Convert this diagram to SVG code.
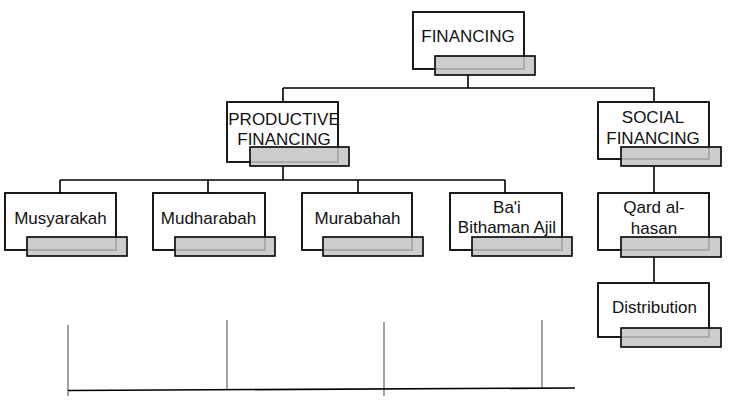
<svg xmlns="http://www.w3.org/2000/svg" width="735" height="402" viewBox="0 0 735 402">
<style>
.box{fill:#fff;stroke:#000;stroke-width:1.8}
.tab{fill:#c4c4c4;fill-opacity:0.85;stroke:#000;stroke-width:1.6}
.lbl{font-family:"Liberation Sans",Arial,sans-serif;font-size:17px;fill:#111;text-anchor:middle}
.con{stroke:#000;stroke-width:1.6;fill:none}
.grid{stroke:#666;stroke-width:1.2;fill:none}
</style>
<rect width="735" height="402" fill="#fff"/>
<g id="connectors">
<path class="con" d="M468 75V88M283 88H655M283 88V102M654 88V102"/>
<path class="con" d="M283 166V180M60 180H505M60 180V193M208 180V193M358 180V193M505 180V193"/>
<path class="con" d="M654 166V193M654 257V283"/>
</g>
<g id="baseline-grid">
<path class="grid" d="M68 325V396M227 320V390M384 322V396M542 320V389"/>
<path class="con" stroke-width="1.3" d="M68 390.5L575 388"/>
</g>
<g id="n-financing">
<rect class="box" x="413" y="12" width="111" height="57"/>
<rect class="tab" x="435" y="56" width="100" height="19"/>
<text class="lbl" x="468" y="42">FINANCING</text>
</g>
<g id="n-productive">
<rect class="box" x="227" y="102" width="111" height="60"/>
<rect class="tab" x="250" y="147" width="99" height="19"/>
<text class="lbl" x="284" y="125">PRODUCTIVE</text>
<text class="lbl" x="284" y="145">FINANCING</text>
</g>
<g id="n-social">
<rect class="box" x="598" y="102" width="111" height="57"/>
<rect class="tab" x="621" y="147" width="100" height="19"/>
<text class="lbl" x="653" y="123">SOCIAL</text>
<text class="lbl" x="653" y="143.5">FINANCING</text>
</g>
<g id="n-musyarakah">
<rect class="box" x="5" y="193" width="111" height="57"/>
<rect class="tab" x="27" y="237" width="100" height="19"/>
<text class="lbl" x="60.5" y="224">Musyarakah</text>
</g>
<g id="n-mudharabah">
<rect class="box" x="153" y="193" width="112" height="57"/>
<rect class="tab" x="175" y="237" width="100" height="19"/>
<text class="lbl" x="208.5" y="224">Mudharabah</text>
</g>
<g id="n-murabahah">
<rect class="box" x="302" y="193" width="110" height="57"/>
<rect class="tab" x="323" y="237" width="100" height="19"/>
<text class="lbl" x="357.5" y="224">Murabahah</text>
</g>
<g id="n-bai">
<rect class="box" x="450" y="193" width="112" height="57"/>
<rect class="tab" x="472" y="237" width="100" height="19"/>
<text class="lbl" x="507" y="212.5">Ba'i</text>
<text class="lbl" x="507" y="233">Bithaman Ajil</text>
</g>
<g id="n-qard">
<rect class="box" x="598" y="193" width="111" height="57"/>
<rect class="tab" x="621" y="237" width="100" height="20"/>
<text class="lbl" x="654" y="213">Qard al-</text>
<text class="lbl" x="654" y="233.5">hasan</text>
</g>
<g id="n-distribution">
<rect class="box" x="598" y="283" width="111" height="54"/>
<rect class="tab" x="621" y="328" width="100" height="19"/>
<text class="lbl" x="654.5" y="313">Distribution</text>
</g>
</svg>
